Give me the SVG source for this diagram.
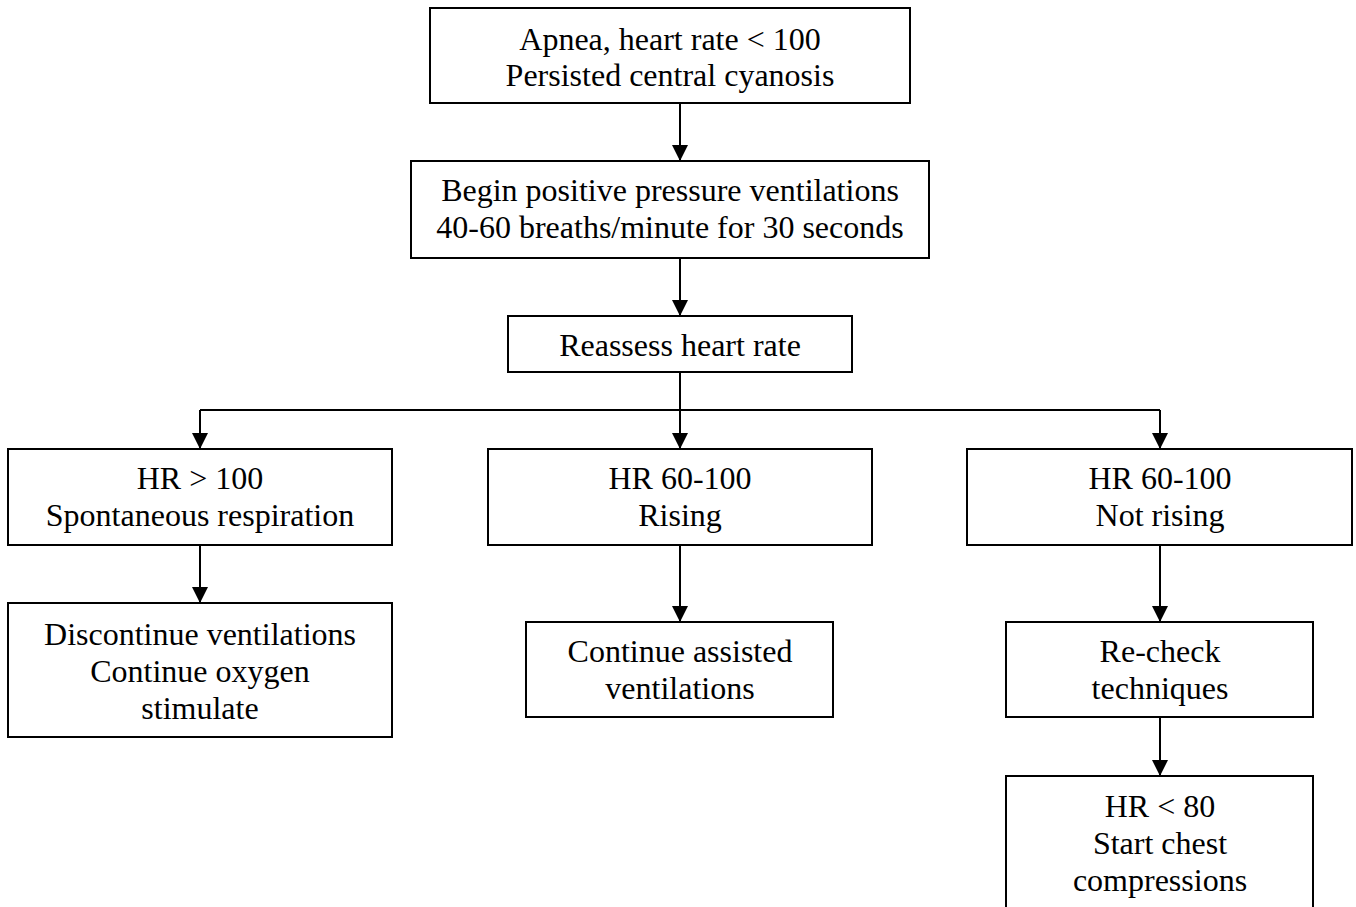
<svg xmlns="http://www.w3.org/2000/svg" width="1356" height="907" viewBox="0 0 1356 907">
<style>
.box{fill:#fff;stroke:#000;stroke-width:2}
.t{font-family:"Liberation Serif","Times New Roman",serif;font-size:32px;fill:#000;text-anchor:middle}
.c{fill:none;stroke:#000;stroke-width:2}
</style>
<defs>
<marker id="ah" markerUnits="userSpaceOnUse" markerWidth="16" markerHeight="18" refX="16" refY="8" orient="auto" viewBox="0 0 16 16">
<path d="M0,0 L16,8 L0,16 Z" fill="#000"/>
</marker>
</defs>
<rect width="1356" height="907" fill="#fff"/>
<g id="connectors">
<path class="c" d="M680,103 V161" marker-end="url(#ah)"/>
<path class="c" d="M680,258 V316" marker-end="url(#ah)"/>
<path class="c" d="M680,372 V449" marker-end="url(#ah)"/>
<path class="c" d="M200,410 H1160"/>
<path class="c" d="M200,410 V449" marker-end="url(#ah)"/>
<path class="c" d="M1160,410 V449" marker-end="url(#ah)"/>
<path class="c" d="M200,545 V603" marker-end="url(#ah)"/>
<path class="c" d="M680,545 V622" marker-end="url(#ah)"/>
<path class="c" d="M1160,545 V622" marker-end="url(#ah)"/>
<path class="c" d="M1160,717 V776" marker-end="url(#ah)"/>
</g>
<g id="n1"><rect class="box" x="430" y="8" width="480" height="95"/>
<text class="t" x="670" y="50">Apnea, heart rate &lt; 100</text>
<text class="t" x="670" y="86">Persisted central cyanosis</text></g>
<g id="n2"><rect class="box" x="411" y="161" width="518" height="97"/>
<text class="t" x="670" y="201">Begin positive pressure ventilations</text>
<text class="t" x="670" y="238">40-60 breaths/minute for 30 seconds</text></g>
<g id="n3"><rect class="box" x="508" y="316" width="344" height="56"/>
<text class="t" x="680" y="356">Reassess heart rate</text></g>
<g id="n4"><rect class="box" x="8" y="449" width="384" height="96"/>
<text class="t" x="200" y="489">HR &gt; 100</text>
<text class="t" x="200" y="526">Spontaneous respiration</text></g>
<g id="n5"><rect class="box" x="488" y="449" width="384" height="96"/>
<text class="t" x="680" y="489">HR 60-100</text>
<text class="t" x="680" y="526">Rising</text></g>
<g id="n6"><rect class="box" x="967" y="449" width="385" height="96"/>
<text class="t" x="1160" y="489">HR 60-100</text>
<text class="t" x="1160" y="526">Not rising</text></g>
<g id="n7"><rect class="box" x="8" y="603" width="384" height="134"/>
<text class="t" x="200" y="645">Discontinue ventilations</text>
<text class="t" x="200" y="682">Continue oxygen</text>
<text class="t" x="200" y="719">stimulate</text></g>
<g id="n8"><rect class="box" x="526" y="622" width="307" height="95"/>
<text class="t" x="680" y="662">Continue assisted</text>
<text class="t" x="680" y="699">ventilations</text></g>
<g id="n9"><rect class="box" x="1006" y="622" width="307" height="95"/>
<text class="t" x="1160" y="662">Re-check</text>
<text class="t" x="1160" y="699">techniques</text></g>
<g id="n10"><rect class="box" x="1006" y="776" width="307" height="140"/>
<text class="t" x="1160" y="817">HR &lt; 80</text>
<text class="t" x="1160" y="854">Start chest</text>
<text class="t" x="1160" y="891">compressions</text></g>
</svg>
